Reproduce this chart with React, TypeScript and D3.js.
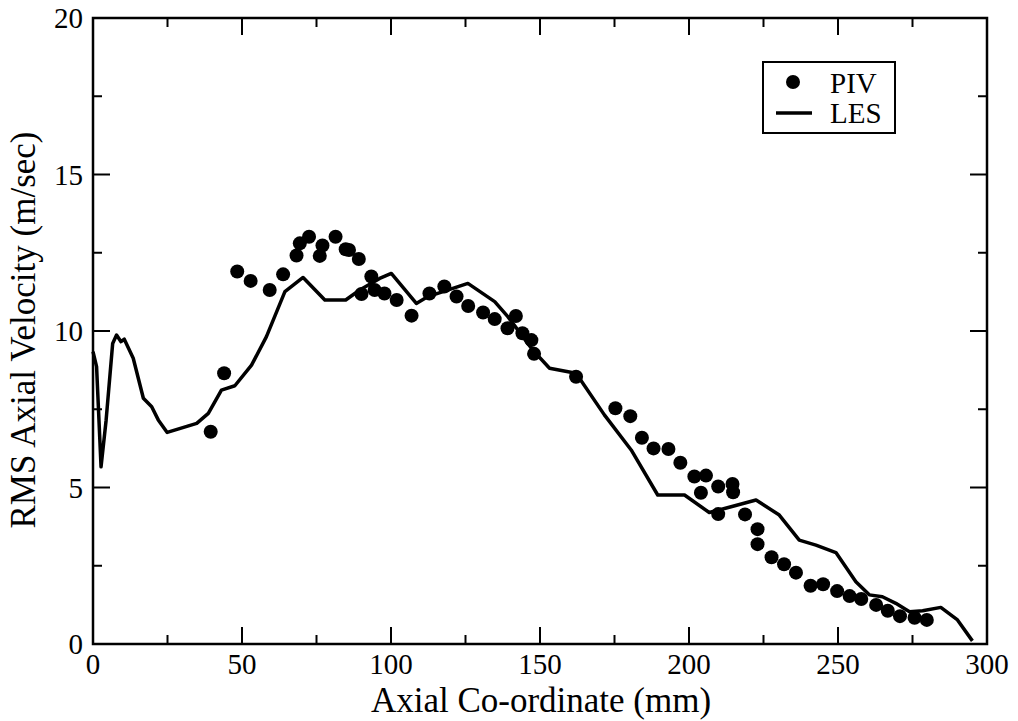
import React, { useEffect, useRef } from "react";
import * as d3 from "d3";

// LES axial coordinate (mm) and RMS axial velocity (m/s)
const lesX = [0, 1.2, 2.7, 4.4, 6.6, 7.9, 9.4, 10.5, 13.5, 16.9, 19.7, 21.9, 24.9, 34.8, 38.7, 43.1, 47.6, 53.2, 58.2, 64.4, 70.5, 77.8, 84.8, 89.5, 96.2, 100.1, 108.5, 112.4, 125.8, 134.8, 139.2, 147.6, 153.2, 162.1, 171.6, 180.6, 189.5, 198.5, 206.8, 213.5, 222.5, 230.3, 237, 242.6, 249.3, 256, 260.5, 264.9, 269.4, 274, 278.4, 284.5, 290.1, 295.1];
const lesY = [9.34, 8.86, 5.66, 7.15, 9.6, 9.87, 9.66, 9.74, 9.13, 7.85, 7.58, 7.16, 6.76, 7.05, 7.37, 8.11, 8.25, 8.91, 9.82, 11.26, 11.71, 10.99, 10.99, 11.31, 11.68, 11.84, 10.88, 11.1, 11.52, 10.94, 10.46, 9.39, 8.81, 8.65, 7.32, 6.2, 4.76, 4.76, 4.2, 4.37, 4.6, 4.12, 3.32, 3.16, 2.92, 1.99, 1.57, 1.51, 1.3, 1.03, 1.06, 1.17, 0.77, 0.1];

// PIV measurements
const pivX = [39.5, 44, 48.4, 52.9, 59.3, 63.8, 68.3, 69.4, 72.5, 76.1, 77, 81.4, 84.8, 85.9, 89.2, 90.1, 93.4, 94.5, 97.8, 101.9, 106.9, 112.9, 117.9, 122, 125.9, 130.9, 134.8, 139.1, 141.9, 144.1, 147.1, 148, 162.1, 175.3, 180.3, 184.2, 188.1, 193.1, 197.1, 201.8, 205.7, 204, 209.8, 214.6, 214.8, 209.8, 218.8, 223, 223, 227.7, 231.9, 235.9, 240.8, 245, 249.7, 253.9, 257.8, 262.8, 266.7, 270.8, 275.7, 279.8];
const pivY = [6.78, 8.65, 11.9, 11.6, 11.31, 11.81, 12.41, 12.8, 13.01, 12.4, 12.73, 13.01, 12.61, 12.59, 12.3, 11.18, 11.74, 11.31, 11.2, 10.99, 10.49, 11.2, 11.42, 11.1, 10.8, 10.59, 10.38, 10.09, 10.48, 9.93, 9.71, 9.27, 8.54, 7.53, 7.28, 6.59, 6.25, 6.23, 5.79, 5.35, 5.38, 4.83, 5.03, 5.11, 4.85, 4.15, 4.14, 3.67, 3.19, 2.77, 2.55, 2.28, 1.86, 1.91, 1.69, 1.53, 1.44, 1.25, 1.06, 0.89, 0.84, 0.77];

const xTicks = [0, 50, 100, 150, 200, 250, 300];
const yTicks = [0, 5, 10, 15, 20];
const xMinor = [25, 75, 125, 175, 225, 275];
const yMinor = [2.5, 7.5, 12.5, 17.5];

const legendLabels = ["PIV", "LES"];

export default function App() {
  const svgRef = useRef<SVGSVGElement>(null);

  useEffect(() => {
    const svg = d3.select(svgRef.current);
    svg.selectAll("*").remove();

    const width = 1018;
    const height = 721;
    const margin = { top: 18, right: 31, bottom: 77, left: 93 };
    const innerWidth = width - margin.left - margin.right;
    const innerHeight = height - margin.top - margin.bottom;
    const font = "'Liberation Serif', 'Times New Roman', serif";

    const xScale = d3.scaleLinear().domain([0, 300]).range([0, innerWidth]);
    const yScale = d3.scaleLinear().domain([0, 20]).range([innerHeight, 0]);

    const g = svg
      .append("g")
      .attr("transform", `translate(${margin.left},${margin.top})`);

    // ticks on all four sides, pointing inward
    const tickG = g.append("g").attr("stroke", "black").attr("stroke-width", 2);
    const major = 17;
    const minor = 9;
    xTicks.concat(xMinor).forEach((t) => {
      const len = xTicks.includes(t) ? major : minor;
      const x = xScale(t);
      tickG.append("line").attr("x1", x).attr("x2", x).attr("y1", innerHeight).attr("y2", innerHeight - len);
      tickG.append("line").attr("x1", x).attr("x2", x).attr("y1", 0).attr("y2", len);
    });
    yTicks.concat(yMinor).forEach((t) => {
      const len = yTicks.includes(t) ? major : minor;
      const y = yScale(t);
      tickG.append("line").attr("x1", 0).attr("x2", len).attr("y1", y).attr("y2", y);
      tickG.append("line").attr("x1", innerWidth).attr("x2", innerWidth - len).attr("y1", y).attr("y2", y);
    });

    // tick labels
    g.selectAll(".xlab")
      .data(xTicks)
      .enter()
      .append("text")
      .attr("x", (d) => xScale(d))
      .attr("y", innerHeight + 30)
      .attr("text-anchor", "middle")
      .attr("font-family", font)
      .attr("font-size", 29)
      .text((d) => d);

    g.selectAll(".ylab")
      .data(yTicks)
      .enter()
      .append("text")
      .attr("x", -10)
      .attr("y", (d) => yScale(d) + 10)
      .attr("text-anchor", "end")
      .attr("font-family", font)
      .attr("font-size", 29)
      .text((d) => d);

    // LES line
    const line = d3
      .line<number>()
      .x((_, i) => xScale(lesX[i]))
      .y((d) => yScale(d));

    g.append("path")
      .datum(lesY)
      .attr("d", line)
      .attr("fill", "none")
      .attr("stroke", "black")
      .attr("stroke-width", 3.5)
      .attr("stroke-linejoin", "round");

    // PIV dots
    g.selectAll(".piv")
      .data(pivY)
      .enter()
      .append("circle")
      .attr("cx", (_, i) => xScale(pivX[i]))
      .attr("cy", (d) => yScale(d))
      .attr("r", 7)
      .attr("fill", "black");

    // frame
    g.append("rect")
      .attr("width", innerWidth)
      .attr("height", innerHeight)
      .attr("fill", "none")
      .attr("stroke", "black")
      .attr("stroke-width", 2.5);

    // axis titles
    svg
      .append("text")
      .attr("x", 541)
      .attr("y", 712)
      .attr("text-anchor", "middle")
      .attr("font-family", font)
      .attr("font-size", 35)
      .text("Axial Co-ordinate (mm)");

    svg
      .append("text")
      .attr("transform", `translate(35,330) rotate(-90)`)
      .attr("text-anchor", "middle")
      .attr("font-family", font)
      .attr("font-size", 35)
      .text("RMS Axial Velocity (m/sec)");

    // legend
    const lg = svg.append("g");
    lg.append("rect")
      .attr("x", 763)
      .attr("y", 62)
      .attr("width", 132)
      .attr("height", 71)
      .attr("fill", "white")
      .attr("stroke", "black")
      .attr("stroke-width", 2);
    lg.append("circle").attr("cx", 793).attr("cy", 82).attr("r", 7).attr("fill", "black");
    lg.append("line")
      .attr("x1", 776)
      .attr("x2", 812)
      .attr("y1", 113)
      .attr("y2", 113)
      .attr("stroke", "black")
      .attr("stroke-width", 3.5);
    legendLabels.forEach((lab, i) => {
      lg.append("text")
        .attr("x", 830)
        .attr("y", 93 + i * 30)
        .attr("font-family", font)
        .attr("font-size", 29)
        .text(lab);
    });
  }, []);

  return (
    <svg
      ref={svgRef}
      width={1018}
      height={721}
      style={{ position: "absolute", left: 0, top: 0, background: "white" }}
    ></svg>
  );
}
